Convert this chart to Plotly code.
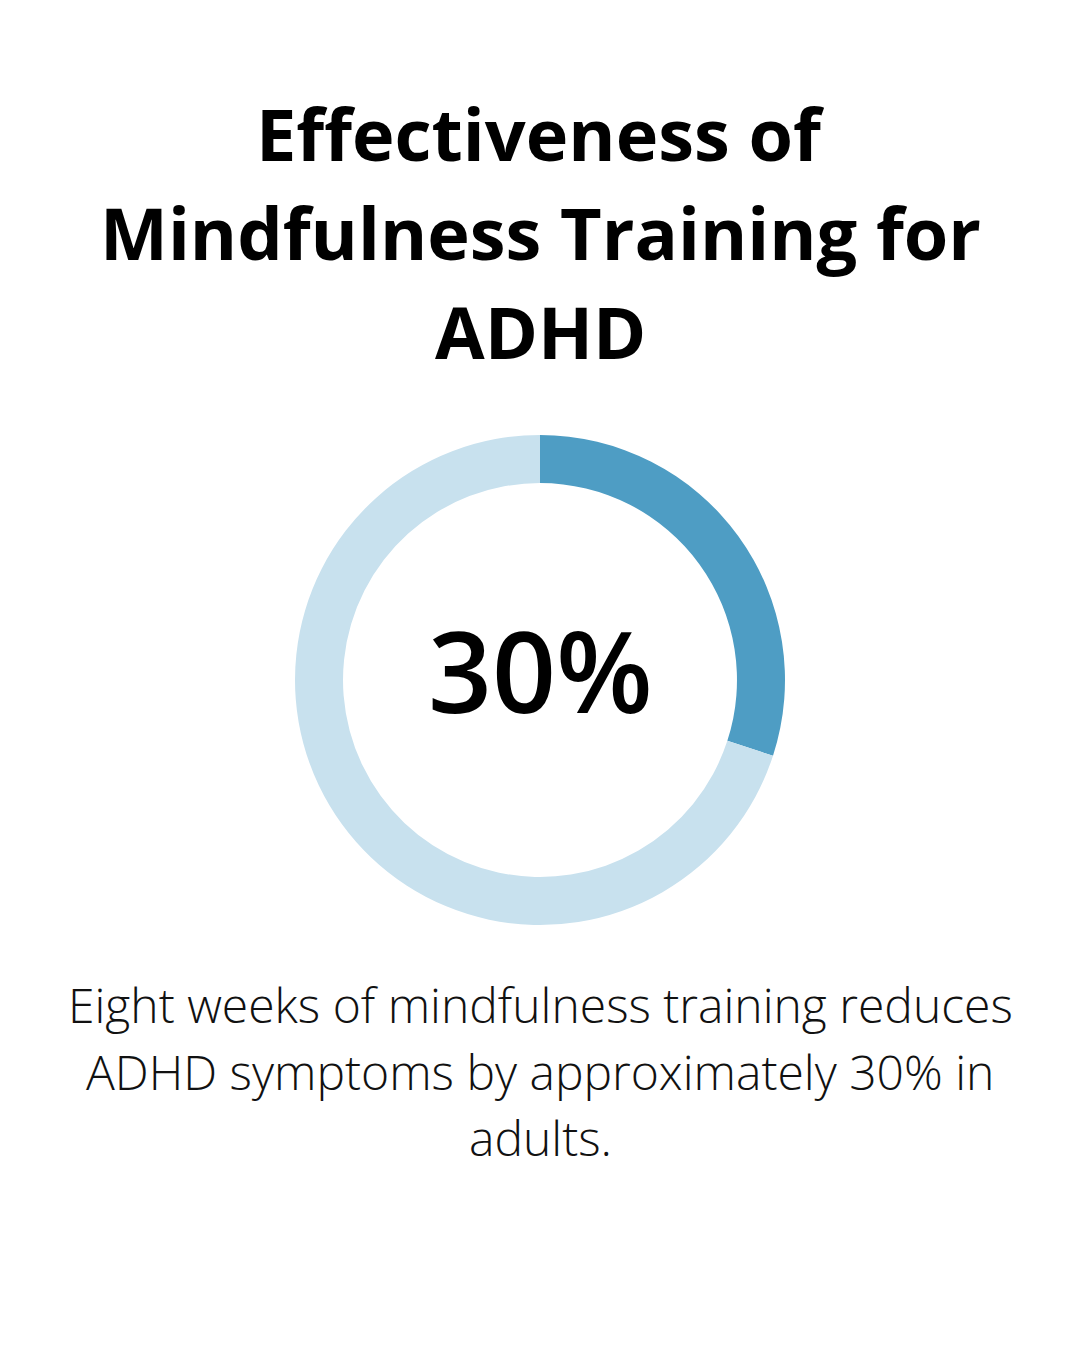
import plotly.graph_objects as go

labels = ["Reduction", "Remaining"]
values = [30, 70]
colors = ["#4E9DC4", "#C8E1EE"]
title_lines = ["Effectiveness of", "Mindfulness Training for", "ADHD"]
center_text = "30%"
body_lines = ["Eight weeks of mindfulness training reduces",
              "ADHD symptoms by approximately 30% in",
              "adults."]

W, H = 1080, 1348
fig = go.Figure()
fig.add_trace(go.Pie(
    labels=labels, values=values, hole=0.804, sort=False, direction="clockwise",
    rotation=0, marker=dict(colors=colors, line=dict(width=0)),
    textinfo="none", hoverinfo="none", showlegend=False,
    domain=dict(x=[295 / W, 785 / W], y=[1 - 925 / H, 1 - 435 / H]),
))

ann = []
for i, t in enumerate(title_lines):
    ann.append(dict(text=t, x=0.5, y=1 - (184 + 99 * i) / H, xref="paper", yref="paper",
                    xanchor="center", yanchor="bottom", showarrow=False,
                    font=dict(family="Open Sans", size=72, color="#000000", weight=700)))
ann.append(dict(text=center_text, x=0.5, y=1 - 748 / H, xref="paper", yref="paper",
                xanchor="center", yanchor="bottom", showarrow=False,
                font=dict(family="Open Sans", size=112, color="#000000", weight=600)))
for i, t in enumerate(body_lines):
    ann.append(dict(text=t, x=0.5, y=1 - (1039 + 66.5 * i) / H, xref="paper", yref="paper",
                    xanchor="center", yanchor="bottom", showarrow=False,
                    font=dict(family="Open Sans", size=48, color="#111111", weight=300)))

fig.update_layout(width=W, height=H, margin=dict(l=0, r=0, t=0, b=0),
                  paper_bgcolor="white", plot_bgcolor="white", annotations=ann)
fig.write_html("out.html", config={"displayModeBar": False},
               post_script="document.body.style.margin='0';")
